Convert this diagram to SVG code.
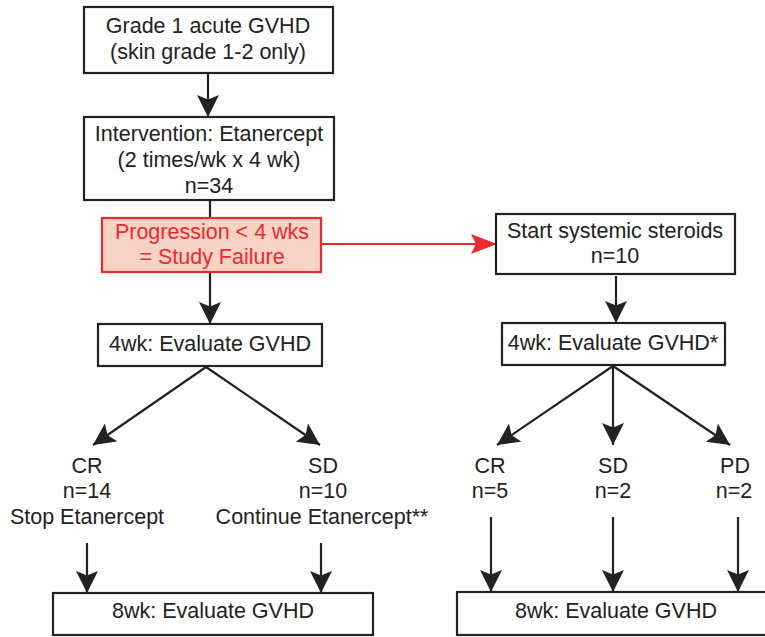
<svg xmlns="http://www.w3.org/2000/svg" width="765" height="637" viewBox="0 0 765 637">
<defs>
<style>
.box{fill:#fff;stroke:#222;stroke-width:2.2}
.rbox{fill:#f9d2c6;stroke:#ea2a2f;stroke-width:2.2}
.t{font-family:"Liberation Sans",Arial,sans-serif;font-size:21.5px;fill:#222;text-anchor:middle}
.rt{font-family:"Liberation Sans",Arial,sans-serif;font-size:21.5px;fill:#ea2a2f;text-anchor:middle}
.ln{stroke:#222;stroke-width:2.2;fill:none;marker-end:url(#ah)}
.rln{stroke:#ea2a2f;stroke-width:2;fill:none;marker-end:url(#rah)}
</style>
<marker id="ah" markerUnits="userSpaceOnUse" markerWidth="22" markerHeight="22" refX="20" refY="10" orient="auto" viewBox="0 0 20 20">
<path d="M0,0 L20,10 L0,20 L4,10 Z" fill="#222"/>
</marker>
<marker id="rah" markerUnits="userSpaceOnUse" markerWidth="26" markerHeight="22" refX="26" refY="10" orient="auto" viewBox="0 0 26 20">
<path d="M0,0 L26,10 L0,20 L5,10 Z" fill="#ea2a2f"/>
</marker>
</defs>

<g id="connectors">
<line class="ln" x1="208" y1="73" x2="208" y2="117"/>
<line x1="210" y1="200" x2="210" y2="218" stroke="#222" stroke-width="2.2"/>
<line class="ln" x1="210" y1="272" x2="210" y2="324"/>
<line class="rln" x1="321" y1="244" x2="497" y2="244"/>
<line class="ln" x1="616" y1="276" x2="616" y2="323"/>
<line class="ln" x1="206" y1="367" x2="93" y2="445"/>
<line class="ln" x1="206" y1="367" x2="320" y2="445"/>
<line class="ln" x1="613" y1="366" x2="497" y2="445"/>
<line class="ln" x1="613" y1="366" x2="613" y2="445"/>
<line class="ln" x1="613" y1="366" x2="730" y2="445"/>
<line class="ln" x1="87" y1="543" x2="87" y2="593"/>
<line class="ln" x1="321" y1="543" x2="321" y2="593"/>
<line class="ln" x1="491" y1="517" x2="491" y2="592"/>
<line class="ln" x1="613" y1="517" x2="613" y2="592"/>
<line class="ln" x1="738" y1="517" x2="738" y2="592"/>
</g>

<g id="grade1">
<rect class="box" x="84" y="7" width="249" height="66"/>
<text class="t" x="208" y="33">Grade 1 acute GVHD</text>
<text class="t" x="208" y="59">(skin grade 1-2 only)</text>
</g>

<g id="intervention">
<rect class="box" x="84" y="117" width="250" height="83"/>
<text class="t" x="209" y="141">Intervention: Etanercept</text>
<text class="t" x="209" y="167">(2 times/wk x 4 wk)</text>
<text class="t" x="209" y="193">n=34</text>
</g>

<g id="progression">
<rect class="rbox" x="102" y="218" width="219" height="54"/>
<text class="rt" x="212" y="239">Progression &lt; 4 wks</text>
<text class="rt" x="212" y="264">= Study Failure</text>
</g>

<g id="steroids">
<rect class="box" x="496" y="214" width="239" height="60"/>
<text class="t" x="615" y="238">Start systemic steroids</text>
<text class="t" x="615" y="263">n=10</text>
</g>

<g id="eval4wk-left">
<rect class="box" x="98" y="324" width="224" height="42"/>
<text class="t" x="210" y="351">4wk: Evaluate GVHD</text>
</g>

<g id="eval4wk-right">
<rect class="box" x="502" y="323" width="223" height="42"/>
<text class="t" x="613" y="350">4wk: Evaluate GVHD*</text>
</g>

<g id="cr-left">
<text class="t" x="87" y="473">CR</text>
<text class="t" x="87" y="498">n=14</text>
<text class="t" x="87" y="524">Stop Etanercept</text>
</g>

<g id="sd-left">
<text class="t" x="323" y="473">SD</text>
<text class="t" x="323" y="498">n=10</text>
<text class="t" x="322" y="524">Continue Etanercept**</text>
</g>

<g id="cr-right">
<text class="t" x="490" y="473">CR</text>
<text class="t" x="490" y="498">n=5</text>
</g>

<g id="sd-right">
<text class="t" x="613" y="473">SD</text>
<text class="t" x="613" y="498">n=2</text>
</g>

<g id="pd-right">
<text class="t" x="735" y="473">PD</text>
<text class="t" x="734" y="498">n=2</text>
</g>

<g id="eval8wk-left">
<rect class="box" x="53" y="593" width="320" height="42"/>
<text class="t" x="213" y="618">8wk: Evaluate GVHD</text>
</g>

<g id="eval8wk-right">
<rect class="box" x="457" y="592" width="320" height="43"/>
<text class="t" x="616" y="618">8wk: Evaluate GVHD</text>
</g>
</svg>
